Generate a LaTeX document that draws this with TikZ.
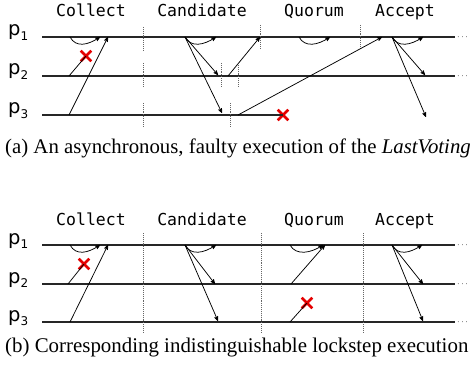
\documentclass[tikz,border=0pt]{standalone}
\usepackage{fontspec}
\setmainfont{Liberation Serif}
\newfontfamily\roundfont{DejaVu Sans Mono}
\newfontfamily\procfont{DejaVu Sans}
\usetikzlibrary{arrows,shapes.misc}

\newcommand{\proc}[1]{{\procfont\fontsize{19.5}{19.5}\selectfont p\raisebox{-4.5pt}{\fontsize{12}{12}\selectfont #1}}}

\tikzset{
  round/.style={font=\roundfont\fontsize{16.5}{16.5}\selectfont, anchor=base},
  plabel/.style={anchor=base west, inner sep=0pt},
  pline/.style={line width=1.3pt, black!85},
  msg/.style={->, line width=0.75pt},
  sep/.style={densely dotted, line width=0.9pt, black!60},
  crash/.style={cross out, draw=red!90!black, line width=2.6pt, minimum size=8pt, inner sep=0pt},
  more/.style={anchor=west, inner sep=0pt, font=\small},
  caption/.style={anchor=base west, inner sep=0pt, font=\fontsize{21.2}{21.2}\selectfont}
}

\begin{document}
\begin{tikzpicture}[x=1pt,y=-1pt,>=stealth']
    \useasboundingbox (0,0) rectangle (476,366);

    % (a) asynchronous execution
    \node[round] (ra) at (91,17) {Collect};
    \node[round] (rb) at (202,17) {Candidate};
    \node[round] (rc) at (314,17) {Quorum};
    \node[round] (rd) at (405,17) {Accept};

    \node[plabel] (P1) at (8,36) {\proc{1}};
    \node[plabel] (P2) at (8,75) {\proc{2}};
    \node[plabel] (P3) at (8,114) {\proc{3}};

    \coordinate (A1) at (42,37);
    \coordinate (A2) at (42,76);
    \coordinate (A3) at (42,115);
    \coordinate (E1) at (455,37);
    \coordinate (E2) at (455,76);
    \node[crash] (X3) at (283,115) {};
    \draw[pline] (A1) -- (E1);
    \draw[pline] (A2) -- (E2);
    \draw[pline] (A3) -- (X3.center);
    \node[more] (D1) at (457,37) {$\cdots$};
    \node[more] (D2) at (457,76) {$\cdots$};

    % round boundaries
    \draw[sep] (143,27) -- (143,50);
    \draw[sep] (143,63) -- (143,87);
    \draw[sep] (143,103) -- (143,127);
    \draw[sep] (260,25) -- (260,49);
    \draw[sep] (221,63) -- (221,87);
    \draw[sep] (238,65) -- (238,87);
    \draw[sep] (230,103) -- (230,127);
    \draw[sep] (360,25) -- (360,49);

    % Collect
    \coordinate (B1) at (70,37);
    \coordinate (B2) at (100,37);
    \coordinate (B3) at (69,76);
    \coordinate (B4) at (69,115);
    \coordinate (B5) at (108,37);
    \node[crash] (X1) at (86,56) {};
    \draw[msg] (B1) .. controls +(6,11) and +(-12,8) .. (B2);
    \draw[line width=0.75pt] (B3) -- (X1.center);
    \draw[msg] (B4) -- (B5);

    % Candidate
    \coordinate (C1) at (185,37);
    \coordinate (C2) at (216,37);
    \coordinate (C3) at (218,75);
    \coordinate (C4) at (222,113);
    \coordinate (C5) at (228,76);
    \coordinate (C6) at (260,37);
    \draw[msg] (C1) .. controls +(6,11) and +(-12,8) .. (C2);
    \draw[msg] (C1) -- (C3);
    \draw[msg] (C1) -- (C4);
    \draw[msg] (C5) -- (C6);

    % Quorum
    \coordinate (Q1) at (299,37);
    \coordinate (Q2) at (330,37);
    \coordinate (Q3) at (238,115);
    \coordinate (Q4) at (382,37);
    \draw[msg] (Q1) .. controls +(6,11) and +(-12,8) .. (Q2);
    \draw[msg] (Q3) -- (Q4);

    % Accept
    \coordinate (K1) at (392,37);
    \coordinate (K2) at (423,37);
    \coordinate (K3) at (425,75);
    \coordinate (K4) at (426,117);
    \draw[msg] (K1) .. controls +(6,11) and +(-12,8) .. (K2);
    \draw[msg] (K1) -- (K3);
    \draw[msg] (K1) -- (K4);

    \node[caption, font=\fontsize{20.8}{20.8}\selectfont] (capa) at (5,154)
        {(a) An asynchronous, faulty execution of the \textit{LastVoting}};

    % (b) lockstep execution
    \node[round] (sa) at (91,225) {Collect};
    \node[round] (sb) at (202,225) {Candidate};
    \node[round] (sc) at (314,225) {Quorum};
    \node[round] (sd) at (405,225) {Accept};

    \node[plabel] (R1) at (8,244) {\proc{1}};
    \node[plabel] (R2) at (8,283) {\proc{2}};
    \node[plabel] (R3) at (8,321) {\proc{3}};

    \coordinate (F1) at (42,245);
    \coordinate (F2) at (42,284);
    \coordinate (F3) at (42,322);
    \coordinate (G1) at (455,245);
    \coordinate (G2) at (455,284);
    \coordinate (G3) at (455,322);
    \draw[pline] (F1) -- (G1);
    \draw[pline] (F2) -- (G2);
    \draw[pline] (F3) -- (G3);
    \node[more] (H1) at (457,245) {$\cdots$};
    \node[more] (H2) at (457,284) {$\cdots$};
    \node[more] (H3) at (457,322) {$\cdots$};

    % round boundaries
    \draw[sep] (143,233) -- (143,332);
    \draw[sep] (261,233) -- (261,332);
    \draw[sep] (363,233) -- (363,332);

    % Collect
    \coordinate (L1) at (70,245);
    \coordinate (L2) at (100,245);
    \coordinate (L3) at (68,284);
    \coordinate (L4) at (70,322);
    \coordinate (L5) at (108,245);
    \node[crash] (Y1) at (84,264) {};
    \draw[msg] (L1) .. controls +(6,11) and +(-12,8) .. (L2);
    \draw[line width=0.75pt] (L3) -- (Y1.center);
    \draw[msg] (L4) -- (L5);

    % Candidate
    \coordinate (M1) at (185,245);
    \coordinate (M2) at (216,245);
    \coordinate (M3) at (215,284);
    \coordinate (M4) at (218,321);
    \draw[msg] (M1) .. controls +(6,11) and +(-12,8) .. (M2);
    \draw[msg] (M1) -- (M3);
    \draw[msg] (M1) -- (M4);

    % Quorum
    \coordinate (N1) at (290,245);
    \coordinate (N2) at (323,245);
    \coordinate (N3) at (291,284);
    \coordinate (N4) at (325,245);
    \coordinate (N5) at (290,322);
    \node[crash] (Y3) at (307,303) {};
    \draw[msg] (N1) .. controls +(6,11) and +(-12,8) .. (N2);
    \draw[msg] (N3) -- (N4);
    \draw[line width=0.75pt] (N5) -- (Y3.center);

    % Accept
    \coordinate (S1) at (392,245);
    \coordinate (S2) at (422,245);
    \coordinate (S3) at (423,284);
    \coordinate (S4) at (423,321);
    \draw[msg] (S1) .. controls +(6,11) and +(-12,8) .. (S2);
    \draw[msg] (S1) -- (S3);
    \draw[msg] (S1) -- (S4);

    \node[caption, font=\fontsize{20.9}{20.9}\selectfont] (capb) at (5,352)
        {(b) Corresponding indistinguishable lockstep execution};
\end{tikzpicture}
\end{document}
